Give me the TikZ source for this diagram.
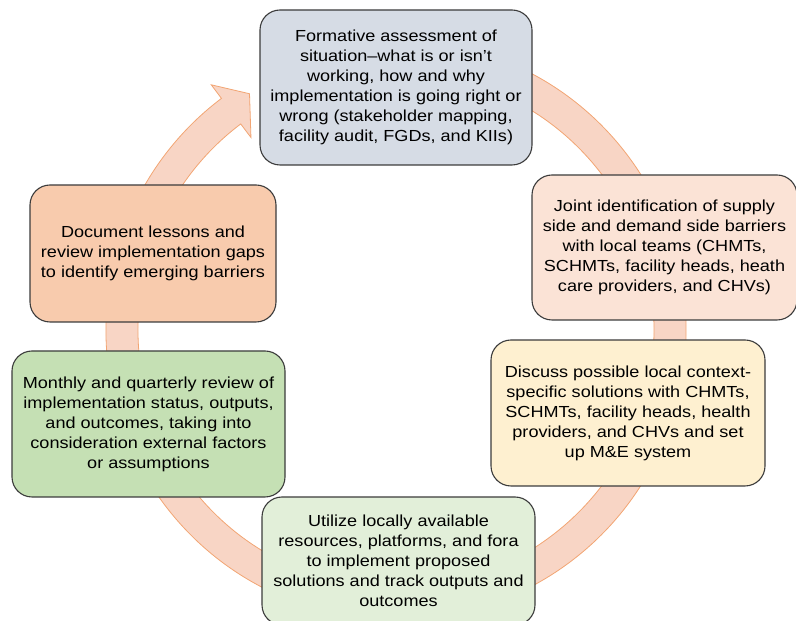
\documentclass[tikz,border=0pt]{standalone}
\usepackage{fontspec}
\setmainfont{Liberation Sans}[FakeStretch=1.13]
\usetikzlibrary{positioning}
\definecolor{ringfill}{RGB}{248,213,197}
\definecolor{ringline}{RGB}{242,165,115}
\definecolor{boxline}{RGB}{60,60,60}
\definecolor{fillassess}{RGB}{214,220,229}
\definecolor{fillidentify}{RGB}{251,227,214}
\definecolor{filldiscuss}{RGB}{254,240,208}
\definecolor{fillutilize}{RGB}{226,239,217}
\definecolor{fillreview}{RGB}{197,224,180}
\definecolor{filldocument}{RGB}{248,203,173}
\tikzset{
        cyclebox/.style={align=center, inner sep=0pt, rounded corners=20pt, draw=boxline, line width=1.1pt, text=black, font=\fontsize{16}{20}\selectfont},
        % Assessment step
        box_assess/.style={cyclebox, fill=fillassess, minimum width=272pt, minimum height=155pt},
        % Barrier identification step
        box_identify/.style={cyclebox, fill=fillidentify, minimum width=265pt, minimum height=145pt},
        % Solution step
        box_discuss/.style={cyclebox, fill=filldiscuss, minimum width=274pt, minimum height=146pt},
        % Implementation step
        box_utilize/.style={cyclebox, fill=fillutilize, minimum width=273pt, minimum height=128pt},
        % Review step
        box_review/.style={cyclebox, fill=fillreview, minimum width=273pt, minimum height=146pt},
        % Lessons step
        box_document/.style={cyclebox, fill=filldocument, minimum width=246pt, minimum height=137pt}
}
\begin{document}
\begin{tikzpicture}[x=1pt, y=1pt]
    \useasboundingbox (0,0) rectangle (796,621);
    % circular arrow behind the boxes
    \begin{scope}[shift={(396,291)}]
        \filldraw[fill=ringfill, draw=ringline, line width=0.8pt]
            (75:290) arc[start angle=75, end angle=-233, radius=290]
            -- (127:307) -- (121.8:278) -- (127:241) -- (127:258)
            arc[start angle=127, end angle=435, radius=258] -- cycle;
    \end{scope}
    \node[box_assess] (assess) at (396,533.5)
        {Formative assessment of\\situation--what is or isn't\\working, how and why\\implementation is going right or\\wrong (stakeholder mapping,\\facility audit, FGDs, and KIIs)};
    \node[box_identify] (identify) at (664.5,373.5)
        {Joint identification of supply\\side and demand side barriers\\with local teams (CHMTs,\\SCHMTs, facility heads, heath\\care providers, and CHVs)};
    \node[box_discuss] (discuss) at (628,208)
        {Discuss possible local context-\\specific solutions with CHMTs,\\SCHMTs, facility heads, health\\providers, and CHVs and set\\up M\&E system};
    \node[box_utilize] (utilize) at (398.5,60)
        {Utilize locally available\\resources, platforms, and fora\\to implement proposed\\solutions and track outputs and\\outcomes};
    \node[box_review] (review) at (148.5,197)
        {Monthly and quarterly review of\\implementation status, outputs,\\and outcomes, taking into\\consideration external factors\\or assumptions};
    \node[box_document] (document) at (153,367.5)
        {Document lessons and\\review implementation gaps\\to identify emerging barriers};
\end{tikzpicture}
\end{document}
